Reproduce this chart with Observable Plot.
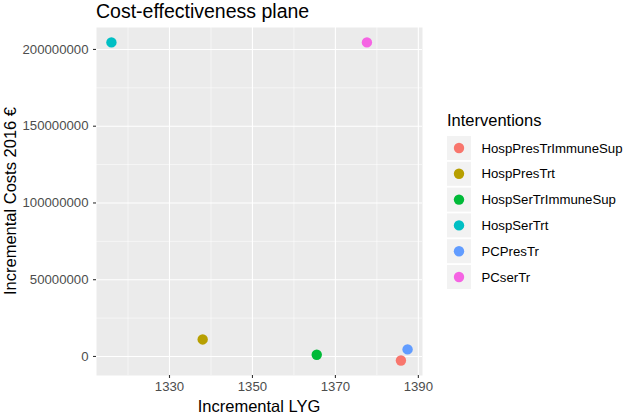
<!DOCTYPE html>
<html>
<head>
<meta charset="utf-8">
<script src="https://cdn.jsdelivr.net/npm/d3@7"></script>
<script src="https://cdn.jsdelivr.net/npm/@observablehq/plot@0.6"></script>
<style>
  html, body { margin: 0; padding: 0; background: white; }
  svg { display: block; }
</style>
</head>
<body>
<div id="chart"></div>
<script>
const interventions = ["HospPresTrImmuneSup", "HospPresTrt", "HospSerTrImmuneSup", "HospSerTrt", "PCPresTr", "PCserTr"];
const lyg = [1385.8, 1338.0, 1365.5, 1316.0, 1387.4, 1377.6];
const costs = [-2600000, 11100000, 1100000, 204600000, 4600000, 204600000];
const colors = ["#F8766D", "#B79F00", "#00BA38", "#00BFC4", "#619CFF", "#F564E3"];
const xTicks = [1330, 1350, 1370, 1390];
const xMinor = [1320, 1340, 1360, 1380];
const yTicks = [0, 50000000, 100000000, 150000000, 200000000];
const yMinor = [25000000, 75000000, 125000000, 175000000];

const data = interventions.map((name, i) => ({name, lyg: lyg[i], cost: costs[i]}));

const font = "'Liberation Sans', Arial, sans-serif";

const svg = Plot.plot({
  width: 624,
  height: 416,
  marginLeft: 96,
  marginRight: 202,
  marginTop: 27,
  marginBottom: 41,
  style: {fontFamily: font, fontSize: "13.2px", color: "#4D4D4D", background: "white"},
  x: {domain: [1312.4, 1391], label: null},
  y: {domain: [-12400000, 214300000], label: null},
  color: {domain: interventions, range: colors},
  marks: [
    Plot.frame({fill: "#EBEBEB", stroke: null}),
    Plot.ruleX(xMinor, {stroke: "white", strokeWidth: 0.55, strokeOpacity: 1}),
    Plot.ruleY(yMinor, {stroke: "white", strokeWidth: 0.55, strokeOpacity: 1}),
    Plot.ruleX(xTicks, {stroke: "white", strokeWidth: 1.1, strokeOpacity: 1}),
    Plot.ruleY(yTicks, {stroke: "white", strokeWidth: 1.1, strokeOpacity: 1}),
    Plot.dot(data, {x: "lyg", y: "cost", fill: "name", r: 5.2, stroke: null}),
    Plot.axisX({ticks: xTicks, tickSize: 3, tickPadding: 3, stroke: "#333333", strokeWidth: 1.1, label: null, fill: "#4D4D4D", tickFormat: d3.format("d")}),
    Plot.axisY({ticks: yTicks, tickSize: 3, tickPadding: 5, stroke: "#333333", strokeWidth: 1.1, label: null, fill: "#4D4D4D", tickFormat: d3.format("d")})
  ]
});

const s = d3.select(svg);

s.append("text")
  .attr("x", 96).attr("y", 18)
  .attr("text-anchor", "start")
  .attr("font-family", font).attr("font-size", "19.5px").attr("fill", "black")
  .text("Cost-effectiveness plane");

s.append("text")
  .attr("x", 259).attr("y", 412)
  .attr("text-anchor", "middle")
  .attr("font-family", font).attr("font-size", "16.5px").attr("fill", "black")
  .text("Incremental LYG");

s.append("text")
  .attr("transform", "translate(16,201) rotate(-90)")
  .attr("text-anchor", "middle")
  .attr("font-family", font).attr("font-size", "16.5px").attr("fill", "black")
  .text("Incremental Costs 2016 €");

// Legend
const lg = s.append("g").attr("text-anchor", "start");
lg.append("text")
  .attr("x", 447).attr("y", 126)
  .attr("font-family", font).attr("font-size", "16.5px").attr("fill", "black")
  .text("Interventions");
const items = lg.selectAll("g.item").data(interventions).join("g")
  .attr("transform", (d, i) => `translate(447,${136 + i * 25.8})`);
items.append("rect").attr("x", 0).attr("y", 0).attr("width", 24).attr("height", 24).attr("fill", "#F2F2F2");
items.append("circle").attr("cx", 12).attr("cy", 12).attr("r", 5.2).attr("fill", (d, i) => colors[i]);
items.append("text").attr("x", 34.5).attr("y", 16.5)
  .attr("font-family", font).attr("font-size", "13.2px").attr("fill", "black")
  .text(d => d);

document.getElementById("chart").appendChild(svg);
</script>
</body>
</html>
